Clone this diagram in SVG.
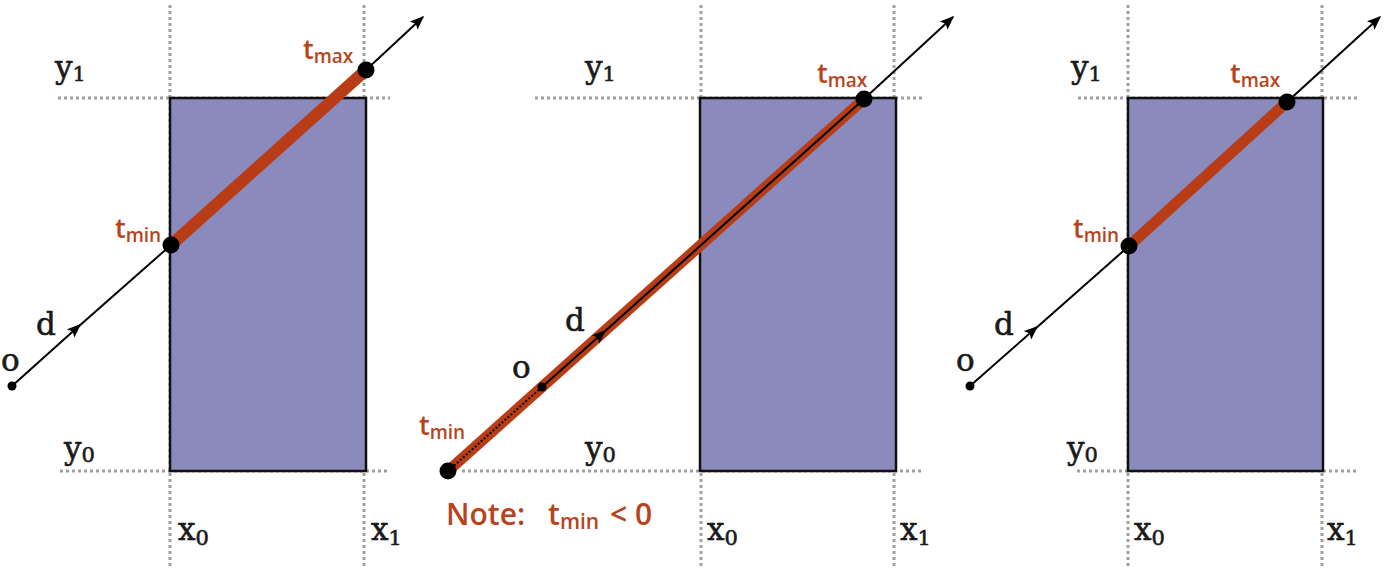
<svg xmlns="http://www.w3.org/2000/svg" width="1384" height="576" viewBox="0 0 1384 576">
<style>
.box{fill:#8a8abd;stroke:#111;stroke-width:2.5}
.dot{stroke:#a0a0a0;stroke-width:3;stroke-dasharray:3 3;fill:none}
.ray{stroke:#000;stroke-width:2;fill:none}
.seg{stroke:#b83d17;stroke-linecap:butt;fill:none}
.m{font-family:"DejaVu Serif","Liberation Serif",serif;font-size:31px;fill:#1a1a1a;stroke:#1a1a1a;stroke-width:0.6}
.s{font-size:21px}
.t{font-family:"Open Sans","Lato",sans-serif;font-weight:600;font-size:27px;fill:#b8441d}
.ts{font-size:19px}
.note{font-size:30px}
.ns{font-size:21px}
</style>
<defs>
<marker id="ah2" viewBox="0 0 10 10" refX="9" refY="5" markerWidth="14" markerHeight="14" markerUnits="userSpaceOnUse" orient="auto">
<path d="M0,1 L10,5 L0,9 L2,5 z" fill="#000"/>
</marker>
</defs>

<g id="guides">
<line class="dot" x1="170" y1="5" x2="170" y2="566"/>
<line class="dot" x1="364" y1="5" x2="364" y2="566"/>
<line class="dot" x1="58" y1="98" x2="390" y2="98"/>
<line class="dot" x1="60" y1="471" x2="390" y2="471"/>
<line class="dot" x1="701" y1="5" x2="701" y2="566"/>
<line class="dot" x1="894" y1="5" x2="894" y2="566"/>
<line class="dot" x1="535" y1="98" x2="922" y2="98"/>
<line class="dot" x1="462" y1="471" x2="922" y2="471"/>
<line class="dot" x1="1128" y1="5" x2="1128" y2="566"/>
<line class="dot" x1="1322" y1="5" x2="1322" y2="566"/>
<line class="dot" x1="1078" y1="98" x2="1358" y2="98"/>
<line class="dot" x1="1077" y1="471" x2="1358" y2="471"/>
</g>

<g id="box1"><rect class="box" x="170" y="98" width="196" height="373"/></g>
<g id="box2"><rect class="box" x="700" y="98" width="196" height="373"/></g>
<g id="box3"><rect class="box" x="1128" y="98" width="195" height="373"/></g>

<g id="connectors">
<line class="ray" x1="12" y1="386" x2="80" y2="325" marker-end="url(#ah2)"/>
<line class="ray" x1="78" y1="327" x2="171" y2="245"/>
<line class="seg" stroke-width="12" x1="171" y1="245" x2="366" y2="70"/>
<line class="ray" x1="366" y1="70" x2="423" y2="17" marker-end="url(#ah2)"/>
<line class="seg" stroke-width="11" x1="448" y1="471" x2="864" y2="99"/>
<line stroke="#000" stroke-width="2" stroke-dasharray="2 2" x1="448" y1="471" x2="542" y2="387"/>
<line class="ray" x1="542" y1="387" x2="605" y2="331" marker-end="url(#ah2)"/>
<line class="ray" x1="603" y1="333" x2="864" y2="99"/>
<line class="ray" x1="864" y1="99" x2="953" y2="17" marker-end="url(#ah2)"/>
<line class="ray" x1="970" y1="386" x2="1037" y2="327" marker-end="url(#ah2)"/>
<line class="ray" x1="1035" y1="329" x2="1129" y2="246"/>
<line class="seg" stroke-width="11" x1="1129" y1="246" x2="1287" y2="102"/>
<line class="ray" x1="1287" y1="102" x2="1380" y2="17" marker-end="url(#ah2)"/>
</g>

<g id="points">
<circle cx="12" cy="386" r="4.5"/>
<circle cx="171" cy="245" r="8.5"/>
<circle cx="366" cy="70" r="8.5"/>
<circle cx="448" cy="471" r="8.5"/>
<circle cx="542" cy="387" r="4.5"/>
<circle cx="864" cy="99" r="8.5"/>
<circle cx="970" cy="386" r="4.5"/>
<circle cx="1129" cy="246" r="8.5"/>
<circle cx="1287" cy="102" r="8.5"/>
</g>

<g id="labels1">
<text class="m" x="1" y="371">o</text>
<text class="m" x="36" y="335">d</text>
<text class="m" x="55" y="78">y<tspan class="s" dy="3">1</tspan></text>
<text class="m" x="64" y="459">y<tspan class="s" dy="3">0</tspan></text>
<text class="m" x="178" y="540">x<tspan class="s" dy="5">0</tspan></text>
<text class="m" x="371" y="540">x<tspan class="s" dy="5">1</tspan></text>
<text class="t" x="115" y="238">t<tspan class="ts" dy="4">min</tspan></text>
<text class="t" x="303" y="59">t<tspan class="ts" dy="4">max</tspan></text>
</g>

<g id="labels2">
<text class="m" x="512" y="378">o</text>
<text class="m" x="565" y="331">d</text>
<text class="m" x="585" y="78">y<tspan class="s" dy="3">1</tspan></text>
<text class="m" x="585" y="459">y<tspan class="s" dy="3">0</tspan></text>
<text class="m" x="707" y="540">x<tspan class="s" dy="5">0</tspan></text>
<text class="m" x="900" y="540">x<tspan class="s" dy="5">1</tspan></text>
<text class="t" x="419" y="435">t<tspan class="ts" dy="4">min</tspan></text>
<text class="t" x="817" y="83">t<tspan class="ts" dy="4">max</tspan></text>
<text class="t note" x="446" y="525">Note:<tspan x="548">t</tspan><tspan class="ns" dy="4">min</tspan><tspan dy="-4" x="610">&lt; 0</tspan></text>
</g>

<g id="labels3">
<text class="m" x="956" y="371">o</text>
<text class="m" x="994" y="335">d</text>
<text class="m" x="1071" y="78">y<tspan class="s" dy="3">1</tspan></text>
<text class="m" x="1067" y="459">y<tspan class="s" dy="3">0</tspan></text>
<text class="m" x="1134" y="540">x<tspan class="s" dy="5">0</tspan></text>
<text class="m" x="1327" y="540">x<tspan class="s" dy="5">1</tspan></text>
<text class="t" x="1073" y="238">t<tspan class="ts" dy="4">min</tspan></text>
<text class="t" x="1230" y="83">t<tspan class="ts" dy="4">max</tspan></text>
</g>
</svg>
